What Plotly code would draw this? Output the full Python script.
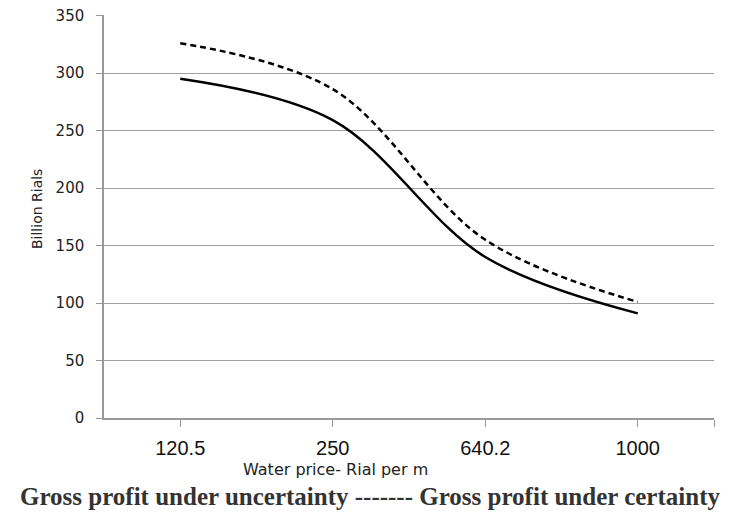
import plotly.graph_objects as go

categories = ["120.5", "250", "640.2", "1000"]
uncertainty = [295, 259, 140, 91]
certainty = [326, 286, 155, 101]
y_ticks = [0, 50, 100, 150, 200, 250, 300, 350]

xpos = list(range(len(categories)))

fig = go.Figure()
fig.add_trace(go.Scatter(x=xpos, y=uncertainty, mode="lines",
                         line=dict(color="black", width=2.5, shape="spline", smoothing=1.0),
                         showlegend=False))
fig.add_trace(go.Scatter(x=xpos, y=certainty, mode="lines",
                         line=dict(color="black", width=2.5, shape="spline", smoothing=1.0, dash="6px,4px"),
                         showlegend=False))

fig.update_layout(
    width=729, height=507,
    margin=dict(l=96, r=23, t=7, b=97, autoexpand=False),
    plot_bgcolor="white", paper_bgcolor="white",
    font=dict(family="DejaVu Sans", color="#222"),
    xaxis=dict(range=[-0.5, 3.5], tickmode="array", automargin=False,
               tickvals=xpos + [3.5], ticktext=categories + [""],
               ticks="outside", ticklen=7, tickcolor="#999", tickwidth=1,
               showline=True, linecolor="#999", linewidth=1.5,
               showgrid=False, zeroline=False,
               ticklabelstandoff=4,
               tickfont=dict(family="Liberation Sans", size=20, color="#111")),
    yaxis=dict(range=[0, 350.5], tickmode="array", tickvals=y_ticks, automargin=False,
               ticks="outside", ticklen=6, tickcolor="#999", tickwidth=1,
               showline=True, linecolor="#999", linewidth=1.5,
               showgrid=True, gridcolor="#a0a0a0", gridwidth=1, zeroline=False,
               ticklabelstandoff=9, ticklabeloverflow="allow",
               tickfont=dict(family="DejaVu Sans", size=15, color="#222")),
)

fig.add_annotation(text="Billion Rials", textangle=-90,
                   xref="paper", yref="paper", x=-0.1098, y=0.5186,
                   xanchor="center", yanchor="middle", showarrow=False,
                   font=dict(family="DejaVu Sans", size=14, color="#222"))
fig.add_annotation(text="Water price- Rial per m",
                   xref="paper", yref="paper", x=0.380, y=-0.129,
                   xanchor="center", yanchor="middle", showarrow=False,
                   font=dict(family="DejaVu Sans", size=16, color="#222"))
fig.add_annotation(text="<b>Gross profit under uncertainty ------- Gross profit under certainty</b>",
                   xref="paper", yref="paper", x=0.436, y=-0.196,
                   xanchor="center", yanchor="middle", showarrow=False,
                   font=dict(family="Liberation Serif", size=25, color="#333"))

fig.write_html("out.html")
